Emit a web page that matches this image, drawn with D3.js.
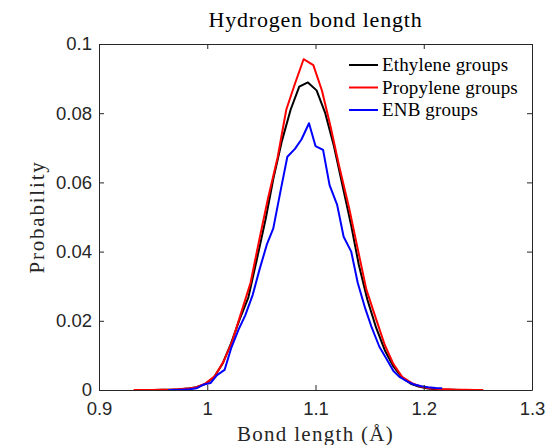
<!DOCTYPE html>
<html>
<head>
<meta charset="utf-8">
<script src="https://cdn.jsdelivr.net/npm/d3@7"></script>
<style>
    body { margin: 0; background: #fff; }
    svg { display: block; }
</style>
</head>
<body>
<div id="draw_here"></div>
<script type="text/javascript">
    // data (bond length in Angstrom, probability)
    eth_x = [0.935, 0.943, 0.951, 0.959, 0.967, 0.975, 0.982, 0.990, 0.998, 1.006,
             1.014, 1.022, 1.030, 1.038, 1.046, 1.054, 1.061, 1.069, 1.077, 1.085,
             1.093, 1.101, 1.109, 1.117, 1.125, 1.133, 1.140, 1.148, 1.156, 1.164,
             1.172, 1.180, 1.188, 1.196, 1.204, 1.212, 1.219, 1.227, 1.235, 1.243]
    eth_y = [0.0000, 0.0000, 0.0000, 0.0001, 0.0001, 0.0002, 0.0004, 0.0008, 0.0017, 0.0036,
             0.0075, 0.0135, 0.0205, 0.0268, 0.0380, 0.0495, 0.0610, 0.0720, 0.0810, 0.0877,
             0.0889, 0.0866, 0.0800, 0.0705, 0.0590, 0.0475, 0.0362, 0.0260, 0.0180, 0.0115,
             0.0068, 0.0036, 0.0018, 0.0009, 0.0004, 0.0002, 0.0001, 0.0001, 0.0000, 0.0000]

    pro_x = [0.932, 0.940, 0.949, 0.957, 0.965, 0.973, 0.982, 0.990, 0.998, 1.007,
             1.015, 1.023, 1.031, 1.040, 1.048, 1.056, 1.065, 1.073, 1.081, 1.089,
             1.098, 1.106, 1.114, 1.122, 1.131, 1.139, 1.147, 1.156, 1.164, 1.172,
             1.180, 1.189, 1.197, 1.205, 1.214, 1.222, 1.230, 1.238, 1.247, 1.255]
    pro_y = [0.0000, 0.0000, 0.0000, 0.0001, 0.0001, 0.0002, 0.0004, 0.0008, 0.0018, 0.0040,
             0.0082, 0.0140, 0.0220, 0.0310, 0.0433, 0.0552, 0.0672, 0.0810, 0.0885, 0.0956,
             0.0939, 0.0865, 0.0760, 0.0645, 0.0527, 0.0408, 0.0290, 0.0205, 0.0130, 0.0075,
             0.0038, 0.0020, 0.0010, 0.0005, 0.0003, 0.0002, 0.0001, 0.0001, 0.0000, 0.0000]

    enb_x = [0.964, 0.971, 0.977, 0.984, 0.990, 0.997, 1.003, 1.009, 1.016, 1.022,
             1.029, 1.035, 1.042, 1.048, 1.055, 1.061, 1.068, 1.074, 1.081, 1.087,
             1.094, 1.100, 1.107, 1.113, 1.120, 1.126, 1.133, 1.139, 1.146, 1.152,
             1.159, 1.165, 1.172, 1.178, 1.185, 1.191, 1.198, 1.204, 1.211, 1.217]
    enb_y = [0.0000, 0.0000, 0.0001, 0.0002, 0.0005, 0.0016, 0.0020, 0.0043, 0.0058, 0.0120,
             0.0175, 0.0215, 0.0275, 0.0345, 0.0420, 0.0467, 0.0580, 0.0674, 0.0697, 0.0724,
             0.0771, 0.0705, 0.0694, 0.0592, 0.0535, 0.0443, 0.0400, 0.0310, 0.0235, 0.0180,
             0.0125, 0.0093, 0.0055, 0.0037, 0.0024, 0.0016, 0.0011, 0.0008, 0.0006, 0.0005]

    series_names = ["Ethylene groups", "Propylene groups", "ENB groups"]
    series_colors = ["#000000", "#ff0000", "#0000ff"]

    x_ticks = [0.9, 1.0, 1.1, 1.2, 1.3]
    x_tick_labels = ["0.9", "1", "1.1", "1.2", "1.3"]
    y_ticks = [0, 0.02, 0.04, 0.06, 0.08, 0.1]
    y_tick_labels = ["0", "0.02", "0.04", "0.06", "0.08", "0.1"]

    xlim = [0.9, 1.3]
    ylim = [0.0, 0.1]

    // layout
    canvas = ({width: 556, height: 445})
    margin = ({top: 44, right: 24, bottom: 55, left: 99})
    axis_col = "#262626"
    serif = "'Liberation Serif', 'Times New Roman', serif"
    sans = "'Liberation Sans', Arial, sans-serif"

    x = d3.scaleLinear()
        .domain(xlim)
        .range([margin.left, canvas.width - margin.right])

    y = d3.scaleLinear()
        .domain(ylim)
        .range([canvas.height - margin.bottom, margin.top])

    var svg = d3.select("div#draw_here").append("svg")
        .attr("width", canvas.width)
        .attr("height", canvas.height)
        .attr("viewBox", [0, 0, canvas.width, canvas.height]);

    // axes, ticks point inwards, box mirrored on top/right
    xAxis = g => g
        .attr("transform", `translate(0,${canvas.height - margin.bottom})`)
        .call(d3.axisBottom(x).tickValues(x_ticks).tickSize(-5).tickSizeOuter(0)
            .tickPadding(12).tickFormat((d, i) => x_tick_labels[i]))

    xAxisTop = g => g
        .attr("transform", `translate(0,${margin.top})`)
        .call(d3.axisTop(x).tickValues(x_ticks).tickSize(-5).tickSizeOuter(0).tickFormat(""))

    yAxis = g => g
        .attr("transform", `translate(${margin.left},0)`)
        .call(d3.axisLeft(y).tickValues(y_ticks).tickSize(-5).tickSizeOuter(0)
            .tickPadding(7).tickFormat((d, i) => y_tick_labels[i]))

    yAxisRight = g => g
        .attr("transform", `translate(${canvas.width - margin.right},0)`)
        .call(d3.axisRight(y).tickValues(y_ticks).tickSize(-5).tickSizeOuter(0).tickFormat(""))

    line = d3.line()
        .x(d => x(d[0]))
        .y(d => y(d[1]))

    all_series = [[eth_x, eth_y], [pro_x, pro_y], [enb_x, enb_y]]

    all_series.forEach(function(s, k) {
        svg.append("path")
            .attr("fill", "none")
            .attr("stroke", series_colors[k])
            .attr("stroke-width", 2)
            .attr("stroke-linejoin", "round")
            .attr("d", line(d3.zip(s[0], s[1])));
    });

    [xAxis, xAxisTop, yAxis, yAxisRight].forEach(function(ax) {
        svg.append("g")
            .call(ax)
            .call(g => g.select(".domain").attr("stroke", axis_col))
            .call(g => g.selectAll(".tick line").attr("stroke", axis_col))
            .call(g => g.selectAll(".tick text")
                .attr("fill", axis_col)
                .attr("font-family", sans)
                .attr("font-size", 18.5))
    });

    // title and axis labels (serif, a bit wider like the LaTeX font)
    svg.append("text")
        .attr("x", x(1.1))
        .attr("y", 27)
        .attr("text-anchor", "middle")
        .attr("font-family", serif)
        .attr("font-size", 22)
        .attr("letter-spacing", 0.8)
        .attr("fill", "#000")
        .text("Hydrogen bond length")

    svg.append("text")
        .attr("x", x(1.1))
        .attr("y", 441)
        .attr("text-anchor", "middle")
        .attr("font-family", serif)
        .attr("font-size", 21)
        .attr("letter-spacing", 1.3)
        .attr("fill", axis_col)
        .text("Bond length (Å)")

    svg.append("text")
        .attr("transform", `translate(44,${y(0.05)}) rotate(-90)`)
        .attr("text-anchor", "middle")
        .attr("font-family", serif)
        .attr("font-size", 21)
        .attr("letter-spacing", 1.8)
        .attr("fill", axis_col)
        .text("Probability")

    // legend (no box)
    legend = svg.append("g")
    series_names.forEach(function(name, k) {
        row_y = 65 + k * 22.5
        legend.append("line")
            .attr("x1", 349).attr("x2", 378)
            .attr("y1", row_y).attr("y2", row_y)
            .attr("stroke", series_colors[k])
            .attr("stroke-width", 2)
        legend.append("text")
            .attr("x", 382)
            .attr("y", row_y + 6)
            .attr("font-family", serif)
            .attr("font-size", 19)
            .attr("letter-spacing", 0.15)
            .attr("fill", "#000")
            .text(name)
    });
</script>
</body>
</html>
